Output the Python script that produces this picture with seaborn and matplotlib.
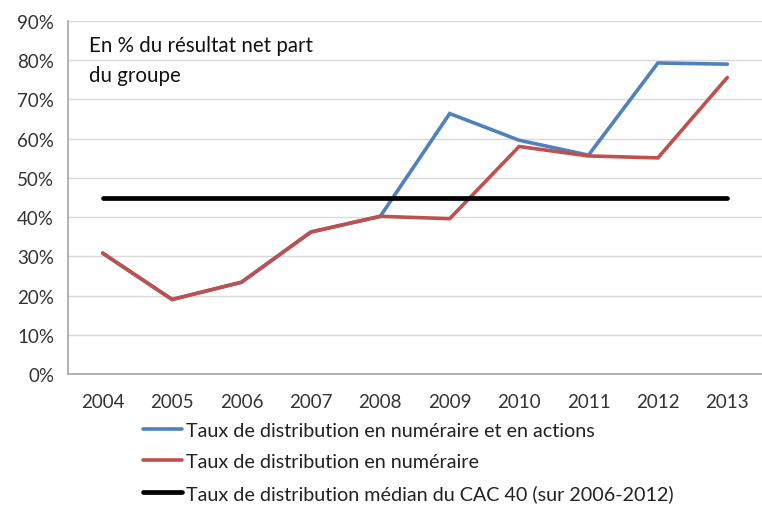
import matplotlib
matplotlib.use("Agg")
import matplotlib.pyplot as plt
import seaborn as sns
import pandas as pd
import numpy as np
from matplotlib.lines import Line2D

years = ["2004", "2005", "2006", "2007", "2008", "2009", "2010", "2011", "2012", "2013"]
cash_and_shares = [30.8, 19.0, 23.4, 36.2, 40.2, 66.4, 59.6, 55.8, 79.3, 79.0]
cash_only = [30.8, 19.0, 23.4, 36.2, 40.2, 39.6, 58.0, 55.6, 55.1, 75.6]
cac40_median = [45.0] * 10
series_names = ["Taux de distribution en numéraire et en actions",
                "Taux de distribution en numéraire",
                "Taux de distribution médian du CAC 40 (sur 2006-2012)"]
colors = ["#4F81BD", "#C0504D", "#000000"]
widths = [2.6, 2.6, 3.4]
yticks = [0, 10, 20, 30, 40, 50, 60, 70, 80, 90]
note = "En % du résultat net part\ndu groupe"

sns.set_style("white")
plt.rcParams['font.family'] = ['Lato', 'DejaVu Sans']

df = pd.DataFrame({
    "year": years * 3,
    "x": list(range(len(years))) * 3,
    "value": cash_and_shares + cash_only + cac40_median,
    "series": [series_names[0]] * 10 + [series_names[1]] * 10 + [series_names[2]] * 10,
})

fig = plt.figure(figsize=(7.62, 5.06), dpi=100)
ax = fig.add_axes([68 / 762, 1 - 375 / 506, 1 - 68 / 762, (375 - 22) / 506])

for name, c, w in zip(series_names, colors, widths):
    sub = df[df.series == name]
    sns.lineplot(data=sub, x="x", y="value", color=c, linewidth=w, ax=ax,
                 legend=False, solid_capstyle="round", solid_joinstyle="miter")

ax.set_xlim(-0.5, 9.5)
ax.set_ylim(0, 90)
ax.set_yticks(yticks)
ax.set_yticklabels([f"{v}%" for v in yticks])
ax.set_xticks(range(len(years)))
ax.set_xticklabels(years)
ax.set_xticks(np.arange(-0.5, 10, 1), minor=True)
ax.tick_params(axis="x", which="major", length=0, pad=14, labelsize=13.5, colors="#333333")
ax.tick_params(axis="x", which="minor", length=6, color="#A6A6A6", width=1)
ax.tick_params(axis="y", which="major", length=5, color="#A6A6A6", width=1,
               labelsize=13.5, pad=5)
ax.tick_params(axis="y", colors="#A6A6A6", labelcolor="#333333")
ax.set_xlabel("")
ax.set_ylabel("")
ax.grid(axis="y", color="#D9D9D9", linewidth=1)
ax.set_axisbelow(True)
for s in ["top", "right"]:
    ax.spines[s].set_visible(False)
for s in ["left", "bottom"]:
    ax.spines[s].set_color("#A6A6A6")
    ax.spines[s].set_linewidth(1.2)

ax.text(89 / 762, 1 - 61 / 506, note, transform=fig.transFigure, fontsize=14.8,
        color="#111111", va="center", ha="left", linespacing=1.6)

handles = [Line2D([0], [0], color=c, linewidth=w) for c, w in zip(colors, widths)]
fig.legend(handles, series_names, loc="upper left", bbox_to_anchor=(133 / 762, 1 - 413 / 506),
           frameon=False, fontsize=14.2, handlelength=2.0, handletextpad=0.2,
           labelspacing=0.72, labelcolor="#222222", borderpad=0)

fig.savefig("out.png", dpi=100)
